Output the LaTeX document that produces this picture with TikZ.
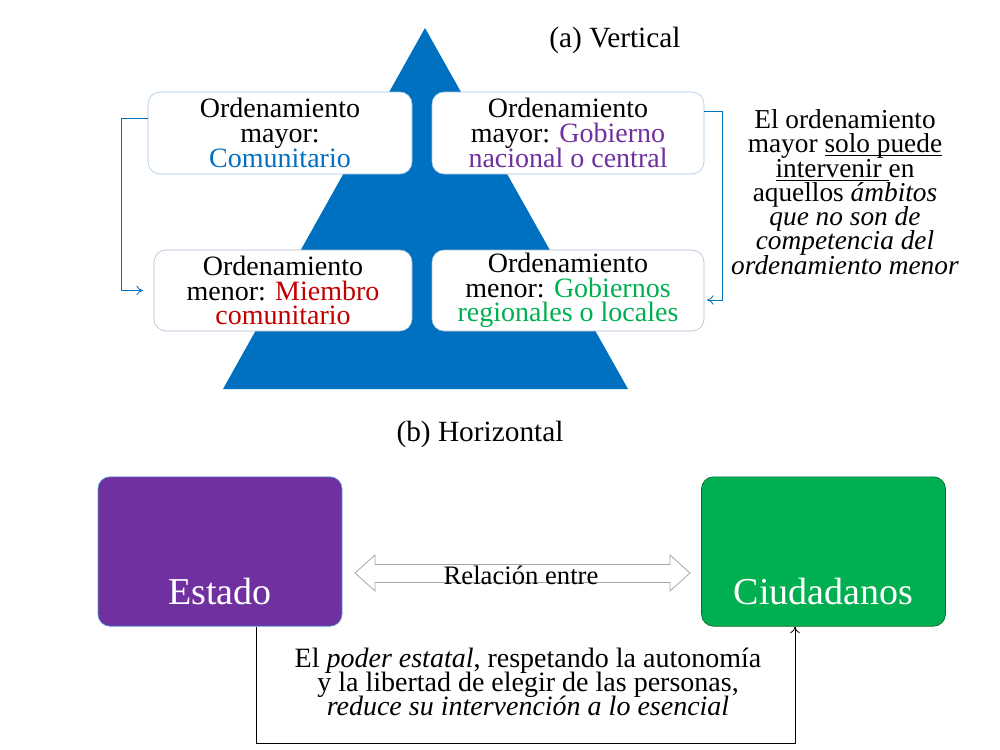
\documentclass[tikz,border=0pt]{standalone}
\usepackage{fontspec}
\setmainfont{Liberation Serif}
\usetikzlibrary{calc,arrows.meta}
\newcommand\mytight{\lineskiplimit=-20pt\relax}
\newsavebox\ulbox
\newcommand\myul[1]{\sbox\ulbox{#1}\rlap{\rule[-2.6pt]{\wd\ulbox}{0.7pt}}\usebox\ulbox}
\definecolor{tri}{HTML}{0070C0}
\definecolor{boxline}{HTML}{9DC3E6}
\definecolor{boxline2}{HTML}{A9BCD0}
\definecolor{cblue}{HTML}{0070C0}
\definecolor{cpurple}{HTML}{7030A0}
\definecolor{cred}{HTML}{C00000}
\definecolor{cgreen}{HTML}{00B050}
\definecolor{arrgray}{HTML}{A6A6A6}
\tikzset{
  obox/.style={draw=boxline, fill=white, rounded corners=9pt, align=center, inner sep=0pt,
    font=\fontsize{21}{18.5}\selectfont\mytight},
  bigbox/.style={rounded corners=9pt, minimum width=183pt, minimum height=112pt, inner sep=0pt},
  bigtext/.style={text=white, font=\fontsize{28.5}{30}\selectfont},
  titletext/.style={font=\fontsize{22}{24}\selectfont},
  conn/.style={draw=cblue, line width=0.6pt, -{To[length=5pt,width=7pt]}},
  bconn/.style={draw=black, line width=0.6pt, -{To[length=5pt,width=7pt]}},
}
\begin{document}
\begin{tikzpicture}[x=0.75pt,y=-0.75pt]
\useasboundingbox (0,0) rectangle (1000,750);
% (a) Vertical
\fill[tri] (425,28) -- (628,389) -- (223,389) -- cycle;
\node[titletext] (ta) at (615,40) {(a) Vertical};
\node[obox, minimum width=198pt, minimum height=61.5pt] (b1) at (280,133)
  {Ordenamiento\\mayor:\\\textcolor{cblue}{Comunitario}};
\node[obox, minimum width=204pt, minimum height=61.5pt] (b2) at (568,133)
  {Ordenamiento\\mayor: \textcolor{cpurple}{Gobierno}\\\textcolor{cpurple}{nacional o central}};
\node[obox, draw=boxline2, minimum width=193.5pt, minimum height=60.75pt] (b3) at (283,290.5)
  {Ordenamiento\\menor: \textcolor{cred}{Miembro}\\\textcolor{cred}{comunitario}};
\node[obox, draw=boxline2, minimum width=204pt, minimum height=60.75pt] (b4) at (568,290.5)
  {Ordenamiento\\menor: \textcolor{cgreen}{Gobiernos}\\\textcolor{cgreen}{regionales o locales}};
\draw[conn, shorten >=8pt] ($(b1.west)+(0,-15)$) -- ++(-26,0) |- (b3.west);
\draw[conn, shorten >=2pt] ($(b2.east)+(0,-22)$) -- ++(18,0) |- ($(b4.east)+(0,9.5)$);
\node[align=center, font=\fontsize{20.5}{18.2}\selectfont\mytight] (note) at (845,192)
  {El ordenamiento\\mayor \myul{solo puede}\\\myul{intervenir }en\\aquellos \textit{ámbitos}\\\textit{que no son de}\\\textit{competencia del}\\\textit{ordenamiento menor}};
% (b) Horizontal
\node[titletext] (tb) at (480,434) {(b) Horizontal};
\node[bigbox, fill=cpurple, draw=cblue!70, line width=0.5pt] (estado) at (220,551.5) {};
\node[bigtext] (lestado) at (220,591) {Estado};
\node[bigbox, fill=cgreen, draw=cgreen!60!black, line width=0.5pt] (ciud) at (823.5,551.5) {};
\node[bigtext] (lciud) at (823.5,591) {Ciudadanos};
% hollow double arrow
\draw[arrgray, fill=white, line width=0.6pt]
  (355,573) -- (375,555) -- (375,564.5) -- (670,564.5) -- (670,555) -- (690,573)
  -- (670,591) -- (670,582.5) -- (375,582.5) -- (375,591) -- cycle;
\node[font=\fontsize{20}{22}\selectfont] (rel) at (521,575) {Relación entre};
% bottom connector
\draw[bconn] ($(estado.south)+(36,0)$) -- ++(0,117) -| ($(ciud.south)+(-28.5,0)$);
\node[align=center, font=\fontsize{21}{18}\selectfont\mytight] (btext) at (528,682)
  {El \textit{poder estatal}, respetando la autonomía\\y la libertad de elegir de las personas,\\\textit{reduce su intervención a lo esencial}};
\end{tikzpicture}
\end{document}
